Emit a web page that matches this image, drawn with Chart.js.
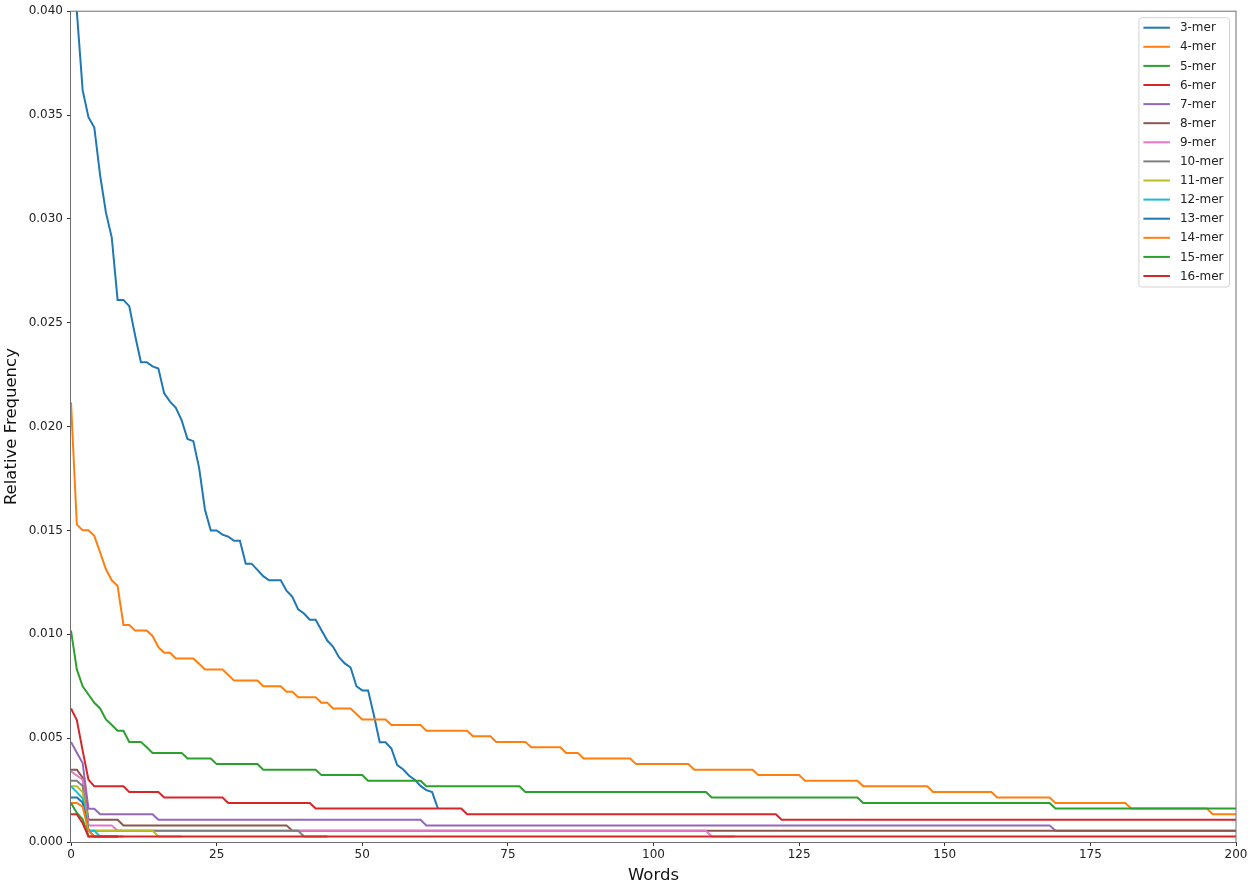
<!DOCTYPE html>
<html>
<head>
<meta charset="utf-8">
<script src="https://cdn.jsdelivr.net/npm/chart.js"></script>
<style>
  html, body { margin: 0; padding: 0; background: #ffffff; }
  canvas { display: block; }
</style>
</head>
<body>
<canvas id="chart" width="1250" height="887"></canvas>
<script>
// ---------------- DATA (relative frequency of the ranked words) ----------------
const seriesNames = ['3-mer','4-mer','5-mer','6-mer','7-mer','8-mer','9-mer','10-mer','11-mer','12-mer','13-mer','14-mer','15-mer','16-mer'];
const xTickValues = [0, 25, 50, 75, 100, 125, 150, 175, 200];
const yTickValues = [0.000, 0.005, 0.010, 0.015, 0.020, 0.025, 0.030, 0.035, 0.040];

const kmer3 = [
  0.0620, 0.0400, 0.0362, 0.0349, 0.0344, 0.0321, 0.0303, 0.0291, 0.0261, 0.0261,
  0.0258, 0.0244, 0.0231, 0.0231, 0.0229, 0.0228, 0.0216, 0.0212, 0.0209, 0.0203,
  0.0194, 0.0193, 0.0180, 0.0160, 0.0150, 0.0150, 0.0148, 0.0147, 0.0145, 0.0145,
  0.0134, 0.0134, 0.0131, 0.0128, 0.0126, 0.0126, 0.0126, 0.0121, 0.0118, 0.0112,
  0.0110, 0.0107, 0.0107, 0.0102, 0.0097, 0.0094, 0.0089, 0.0086, 0.0084, 0.0075,
  0.0073, 0.0073, 0.0061, 0.0048, 0.0048, 0.0045, 0.0037, 0.0035, 0.0032, 0.0030,
  0.0027, 0.0025, 0.0024, 0.0016
];

const kmer4 = [
  0.02117, 0.01528, 0.01501, 0.01501, 0.01474, 0.01394, 0.01313, 0.01260, 0.01233, 0.01045,
  0.01045, 0.01018, 0.01018, 0.01018, 0.00992, 0.00938, 0.00911, 0.00911, 0.00884, 0.00884,
  0.00884, 0.00884, 0.00858, 0.00831, 0.00831, 0.00831, 0.00831, 0.00804, 0.00777, 0.00777,
  0.00777, 0.00777, 0.00777, 0.00750, 0.00750, 0.00750, 0.00750, 0.00724, 0.00724, 0.00697,
  0.00697, 0.00697, 0.00697, 0.00670, 0.00670, 0.00643, 0.00643, 0.00643, 0.00643, 0.00616,
  0.00590, 0.00590, 0.00590, 0.00590, 0.00590, 0.00563, 0.00563, 0.00563, 0.00563, 0.00563,
  0.00563, 0.00536, 0.00536, 0.00536, 0.00536, 0.00536, 0.00536, 0.00536, 0.00536, 0.00509,
  0.00509, 0.00509, 0.00509, 0.00482, 0.00482, 0.00482, 0.00482, 0.00482, 0.00482, 0.00456,
  0.00456, 0.00456, 0.00456, 0.00456, 0.00456, 0.00429, 0.00429, 0.00429, 0.00402, 0.00402,
  0.00402, 0.00402, 0.00402, 0.00402, 0.00402, 0.00402, 0.00402, 0.00375, 0.00375, 0.00375,
  0.00375, 0.00375, 0.00375, 0.00375, 0.00375, 0.00375, 0.00375, 0.00348, 0.00348, 0.00348,
  0.00348, 0.00348, 0.00348, 0.00348, 0.00348, 0.00348, 0.00348, 0.00348, 0.00322, 0.00322,
  0.00322, 0.00322, 0.00322, 0.00322, 0.00322, 0.00322, 0.00295, 0.00295, 0.00295, 0.00295,
  0.00295, 0.00295, 0.00295, 0.00295, 0.00295, 0.00295, 0.00268, 0.00268, 0.00268, 0.00268,
  0.00268, 0.00268, 0.00268, 0.00268, 0.00268, 0.00268, 0.00268, 0.00268, 0.00241, 0.00241,
  0.00241, 0.00241, 0.00241, 0.00241, 0.00241, 0.00241, 0.00241, 0.00241, 0.00241, 0.00214,
  0.00214, 0.00214, 0.00214, 0.00214, 0.00214, 0.00214, 0.00214, 0.00214, 0.00214, 0.00188,
  0.00188, 0.00188, 0.00188, 0.00188, 0.00188, 0.00188, 0.00188, 0.00188, 0.00188, 0.00188,
  0.00188, 0.00188, 0.00161, 0.00161, 0.00161, 0.00161, 0.00161, 0.00161, 0.00161, 0.00161,
  0.00161, 0.00161, 0.00161, 0.00161, 0.00161, 0.00161, 0.00134, 0.00134, 0.00134, 0.00134,
  0.00134
];

const kmer5 = [
  0.01018, 0.00831, 0.00750, 0.00710, 0.00670, 0.00643, 0.00590, 0.00563, 0.00536, 0.00536,
  0.00482, 0.00482, 0.00482, 0.00456, 0.00429, 0.00429, 0.00429, 0.00429, 0.00429, 0.00429,
  0.00402, 0.00402, 0.00402, 0.00402, 0.00402, 0.00375, 0.00375, 0.00375, 0.00375, 0.00375,
  0.00375, 0.00375, 0.00375, 0.00348, 0.00348, 0.00348, 0.00348, 0.00348, 0.00348, 0.00348,
  0.00348, 0.00348, 0.00348, 0.00322, 0.00322, 0.00322, 0.00322, 0.00322, 0.00322, 0.00322,
  0.00322, 0.00295, 0.00295, 0.00295, 0.00295, 0.00295, 0.00295, 0.00295, 0.00295, 0.00295,
  0.00295, 0.00268, 0.00268, 0.00268, 0.00268, 0.00268, 0.00268, 0.00268, 0.00268, 0.00268,
  0.00268, 0.00268, 0.00268, 0.00268, 0.00268, 0.00268, 0.00268, 0.00268, 0.00241, 0.00241,
  0.00241, 0.00241, 0.00241, 0.00241, 0.00241, 0.00241, 0.00241, 0.00241, 0.00241, 0.00241,
  0.00241, 0.00241, 0.00241, 0.00241, 0.00241, 0.00241, 0.00241, 0.00241, 0.00241, 0.00241,
  0.00241, 0.00241, 0.00241, 0.00241, 0.00241, 0.00241, 0.00241, 0.00241, 0.00241, 0.00241,
  0.00214, 0.00214, 0.00214, 0.00214, 0.00214, 0.00214, 0.00214, 0.00214, 0.00214, 0.00214,
  0.00214, 0.00214, 0.00214, 0.00214, 0.00214, 0.00214, 0.00214, 0.00214, 0.00214, 0.00214,
  0.00214, 0.00214, 0.00214, 0.00214, 0.00214, 0.00214, 0.00188, 0.00188, 0.00188, 0.00188,
  0.00188, 0.00188, 0.00188, 0.00188, 0.00188, 0.00188, 0.00188, 0.00188, 0.00188, 0.00188,
  0.00188, 0.00188, 0.00188, 0.00188, 0.00188, 0.00188, 0.00188, 0.00188, 0.00188, 0.00188,
  0.00188, 0.00188, 0.00188, 0.00188, 0.00188, 0.00188, 0.00188, 0.00188, 0.00188, 0.00161,
  0.00161, 0.00161, 0.00161, 0.00161, 0.00161, 0.00161, 0.00161, 0.00161, 0.00161, 0.00161,
  0.00161, 0.00161, 0.00161, 0.00161, 0.00161, 0.00161, 0.00161, 0.00161, 0.00161, 0.00161,
  0.00161, 0.00161, 0.00161, 0.00161, 0.00161, 0.00161, 0.00161, 0.00161, 0.00161, 0.00161,
  0.00161
];

const kmer6 = [
  0.00643, 0.00587, 0.00440, 0.00300, 0.00268, 0.00268, 0.00268, 0.00268, 0.00268, 0.00268,
  0.00241, 0.00241, 0.00241, 0.00241, 0.00241, 0.00241, 0.00214, 0.00214, 0.00214, 0.00214,
  0.00214, 0.00214, 0.00214, 0.00214, 0.00214, 0.00214, 0.00214, 0.00188, 0.00188, 0.00188,
  0.00188, 0.00188, 0.00188, 0.00188, 0.00188, 0.00188, 0.00188, 0.00188, 0.00188, 0.00188,
  0.00188, 0.00188, 0.00161, 0.00161, 0.00161, 0.00161, 0.00161, 0.00161, 0.00161, 0.00161,
  0.00161, 0.00161, 0.00161, 0.00161, 0.00161, 0.00161, 0.00161, 0.00161, 0.00161, 0.00161,
  0.00161, 0.00161, 0.00161, 0.00161, 0.00161, 0.00161, 0.00161, 0.00161, 0.00134, 0.00134,
  0.00134, 0.00134, 0.00134, 0.00134, 0.00134, 0.00134, 0.00134, 0.00134, 0.00134, 0.00134,
  0.00134, 0.00134, 0.00134, 0.00134, 0.00134, 0.00134, 0.00134, 0.00134, 0.00134, 0.00134,
  0.00134, 0.00134, 0.00134, 0.00134, 0.00134, 0.00134, 0.00134, 0.00134, 0.00134, 0.00134,
  0.00134, 0.00134, 0.00134, 0.00134, 0.00134, 0.00134, 0.00134, 0.00134, 0.00134, 0.00134,
  0.00134, 0.00134, 0.00134, 0.00134, 0.00134, 0.00134, 0.00134, 0.00134, 0.00134, 0.00134,
  0.00134, 0.00134, 0.00107, 0.00107, 0.00107, 0.00107, 0.00107, 0.00107, 0.00107, 0.00107,
  0.00107, 0.00107, 0.00107, 0.00107, 0.00107, 0.00107, 0.00107, 0.00107, 0.00107, 0.00107,
  0.00107, 0.00107, 0.00107, 0.00107, 0.00107, 0.00107, 0.00107, 0.00107, 0.00107, 0.00107,
  0.00107, 0.00107, 0.00107, 0.00107, 0.00107, 0.00107, 0.00107, 0.00107, 0.00107, 0.00107,
  0.00107, 0.00107, 0.00107, 0.00107, 0.00107, 0.00107, 0.00107, 0.00107, 0.00107, 0.00107,
  0.00107, 0.00107, 0.00107, 0.00107, 0.00107, 0.00107, 0.00107, 0.00107, 0.00107, 0.00107,
  0.00107, 0.00107, 0.00107, 0.00107, 0.00107, 0.00107, 0.00107, 0.00107, 0.00107, 0.00107,
  0.00107, 0.00107, 0.00107, 0.00107, 0.00107, 0.00107, 0.00107, 0.00107, 0.00107, 0.00107,
  0.00107
];

const kmer7 = [
  0.00482, 0.00430, 0.00380, 0.00160, 0.00160, 0.00134, 0.00134, 0.00134, 0.00134, 0.00134,
  0.00134, 0.00134, 0.00134, 0.00134, 0.00134, 0.00107, 0.00107, 0.00107, 0.00107, 0.00107,
  0.00107, 0.00107, 0.00107, 0.00107, 0.00107, 0.00107, 0.00107, 0.00107, 0.00107, 0.00107,
  0.00107, 0.00107, 0.00107, 0.00107, 0.00107, 0.00107, 0.00107, 0.00107, 0.00107, 0.00107,
  0.00107, 0.00107, 0.00107, 0.00107, 0.00107, 0.00107, 0.00107, 0.00107, 0.00107, 0.00107,
  0.00107, 0.00107, 0.00107, 0.00107, 0.00107, 0.00107, 0.00107, 0.00107, 0.00107, 0.00107,
  0.00107, 0.00080, 0.00080, 0.00080, 0.00080, 0.00080, 0.00080, 0.00080, 0.00080, 0.00080,
  0.00080, 0.00080, 0.00080, 0.00080, 0.00080, 0.00080, 0.00080, 0.00080, 0.00080, 0.00080,
  0.00080, 0.00080, 0.00080, 0.00080, 0.00080, 0.00080, 0.00080, 0.00080, 0.00080, 0.00080,
  0.00080, 0.00080, 0.00080, 0.00080, 0.00080, 0.00080, 0.00080, 0.00080, 0.00080, 0.00080,
  0.00080, 0.00080, 0.00080, 0.00080, 0.00080, 0.00080, 0.00080, 0.00080, 0.00080, 0.00080,
  0.00080, 0.00080, 0.00080, 0.00080, 0.00080, 0.00080, 0.00080, 0.00080, 0.00080, 0.00080,
  0.00080, 0.00080, 0.00080, 0.00080, 0.00080, 0.00080, 0.00080, 0.00080, 0.00080, 0.00080,
  0.00080, 0.00080, 0.00080, 0.00080, 0.00080, 0.00080, 0.00080, 0.00080, 0.00080, 0.00080,
  0.00080, 0.00080, 0.00080, 0.00080, 0.00080, 0.00080, 0.00080, 0.00080, 0.00080, 0.00080,
  0.00080, 0.00080, 0.00080, 0.00080, 0.00080, 0.00080, 0.00080, 0.00080, 0.00080, 0.00080,
  0.00080, 0.00080, 0.00080, 0.00080, 0.00080, 0.00080, 0.00080, 0.00080, 0.00080, 0.00054,
  0.00054, 0.00054, 0.00054, 0.00054, 0.00054, 0.00054, 0.00054, 0.00054, 0.00054, 0.00054,
  0.00054, 0.00054, 0.00054, 0.00054, 0.00054, 0.00054, 0.00054, 0.00054, 0.00054, 0.00054,
  0.00054, 0.00054, 0.00054, 0.00054, 0.00054, 0.00054, 0.00054, 0.00054, 0.00054, 0.00054,
  0.00054
];

const kmer8 = [
  0.00348, 0.00348, 0.00310, 0.00107, 0.00107, 0.00107, 0.00107, 0.00107, 0.00107, 0.00080,
  0.00080, 0.00080, 0.00080, 0.00080, 0.00080, 0.00080, 0.00080, 0.00080, 0.00080, 0.00080,
  0.00080, 0.00080, 0.00080, 0.00080, 0.00080, 0.00080, 0.00080, 0.00080, 0.00080, 0.00080,
  0.00080, 0.00080, 0.00080, 0.00080, 0.00080, 0.00080, 0.00080, 0.00080, 0.00054, 0.00054,
  0.00054, 0.00054, 0.00054, 0.00054, 0.00054, 0.00054, 0.00054, 0.00054, 0.00054, 0.00054,
  0.00054, 0.00054, 0.00054, 0.00054, 0.00054, 0.00054, 0.00054, 0.00054, 0.00054, 0.00054,
  0.00054, 0.00054, 0.00054, 0.00054, 0.00054, 0.00054, 0.00054, 0.00054, 0.00054, 0.00054,
  0.00054, 0.00054, 0.00054, 0.00054, 0.00054, 0.00054, 0.00054, 0.00054, 0.00054, 0.00054,
  0.00054, 0.00054, 0.00054, 0.00054, 0.00054, 0.00054, 0.00054, 0.00054, 0.00054, 0.00054,
  0.00054, 0.00054, 0.00054, 0.00054, 0.00054, 0.00054, 0.00054, 0.00054, 0.00054, 0.00054,
  0.00054, 0.00054, 0.00054, 0.00054, 0.00054, 0.00054, 0.00054, 0.00054, 0.00054, 0.00054,
  0.00054, 0.00054, 0.00054, 0.00054, 0.00054, 0.00054, 0.00054, 0.00054, 0.00054, 0.00054,
  0.00054, 0.00054, 0.00054, 0.00054, 0.00054, 0.00054, 0.00054, 0.00054, 0.00054, 0.00054,
  0.00054, 0.00054, 0.00054, 0.00054, 0.00054, 0.00054, 0.00054, 0.00054, 0.00054, 0.00054,
  0.00054, 0.00054, 0.00054, 0.00054, 0.00054, 0.00054, 0.00054, 0.00054, 0.00054, 0.00054,
  0.00054, 0.00054, 0.00054, 0.00054, 0.00054, 0.00054, 0.00054, 0.00054, 0.00054, 0.00054,
  0.00054, 0.00054, 0.00054, 0.00054, 0.00054, 0.00054, 0.00054, 0.00054, 0.00054, 0.00054,
  0.00054, 0.00054, 0.00054, 0.00054, 0.00054, 0.00054, 0.00054, 0.00054, 0.00054, 0.00054,
  0.00054, 0.00054, 0.00054, 0.00054, 0.00054, 0.00054, 0.00054, 0.00054, 0.00054, 0.00054,
  0.00054, 0.00054, 0.00054, 0.00054, 0.00054, 0.00054, 0.00054, 0.00054, 0.00054, 0.00054,
  0.00054
];

const kmer9 = [
  0.00340, 0.00320, 0.00300, 0.00080, 0.00080, 0.00080, 0.00080, 0.00080, 0.00054, 0.00054,
  0.00054, 0.00054, 0.00054, 0.00054, 0.00054, 0.00054, 0.00054, 0.00054, 0.00054, 0.00054,
  0.00054, 0.00054, 0.00054, 0.00054, 0.00054, 0.00054, 0.00054, 0.00054, 0.00054, 0.00054,
  0.00054, 0.00054, 0.00054, 0.00054, 0.00054, 0.00054, 0.00054, 0.00054, 0.00054, 0.00054,
  0.00054, 0.00054, 0.00054, 0.00054, 0.00054, 0.00054, 0.00054, 0.00054, 0.00054, 0.00054,
  0.00054, 0.00054, 0.00054, 0.00054, 0.00054, 0.00054, 0.00054, 0.00054, 0.00054, 0.00054,
  0.00054, 0.00054, 0.00054, 0.00054, 0.00054, 0.00054, 0.00054, 0.00054, 0.00054, 0.00054,
  0.00054, 0.00054, 0.00054, 0.00054, 0.00054, 0.00054, 0.00054, 0.00054, 0.00054, 0.00054,
  0.00054, 0.00054, 0.00054, 0.00054, 0.00054, 0.00054, 0.00054, 0.00054, 0.00054, 0.00054,
  0.00054, 0.00054, 0.00054, 0.00054, 0.00054, 0.00054, 0.00054, 0.00054, 0.00054, 0.00054,
  0.00054, 0.00054, 0.00054, 0.00054, 0.00054, 0.00054, 0.00054, 0.00054, 0.00054, 0.00054,
  0.00027, 0.00027, 0.00027, 0.00027, 0.00027
];

const kmer10 = [
  0.00295, 0.00295, 0.00270, 0.00054, 0.00054, 0.00054, 0.00054, 0.00054, 0.00054, 0.00054,
  0.00054, 0.00054, 0.00054, 0.00054, 0.00054, 0.00054, 0.00054, 0.00054, 0.00054, 0.00054,
  0.00054, 0.00054, 0.00054, 0.00054, 0.00054, 0.00054, 0.00054, 0.00054, 0.00054, 0.00054,
  0.00054, 0.00054, 0.00054, 0.00054, 0.00054, 0.00054, 0.00054, 0.00054, 0.00054, 0.00054,
  0.00027, 0.00027, 0.00027, 0.00027, 0.00027
];

const kmer11 = [
  0.00268, 0.00268, 0.00240, 0.00054, 0.00054, 0.00054, 0.00054, 0.00054, 0.00054, 0.00054,
  0.00054, 0.00054, 0.00054, 0.00054, 0.00054, 0.00027, 0.00027, 0.00027, 0.00027, 0.00027
];

const kmer12 = [0.00268, 0.00240, 0.00210, 0.00054, 0.00054, 0.00027, 0.00027, 0.00027, 0.00027, 0.00027];
const kmer13 = [0.00214, 0.00214, 0.00190, 0.00054, 0.00027, 0.00027, 0.00027, 0.00027, 0.00027];
const kmer14 = [0.00188, 0.00188, 0.00170, 0.00054, 0.00027, 0.00027, 0.00027, 0.00027, 0.00027];
const kmer15 = [0.00188, 0.00140, 0.00110, 0.00027, 0.00027, 0.00027, 0.00027, 0.00027, 0.00027];

const kmer16 = [
  0.00134, 0.00134, 0.00090, 0.00027, 0.00027, 0.00027, 0.00027, 0.00027, 0.00027, 0.00027,
  0.00027, 0.00027, 0.00027, 0.00027, 0.00027, 0.00027, 0.00027, 0.00027, 0.00027, 0.00027,
  0.00027, 0.00027, 0.00027, 0.00027, 0.00027, 0.00027, 0.00027, 0.00027, 0.00027, 0.00027,
  0.00027, 0.00027, 0.00027, 0.00027, 0.00027, 0.00027, 0.00027, 0.00027, 0.00027, 0.00027,
  0.00027, 0.00027, 0.00027, 0.00027, 0.00027, 0.00027, 0.00027, 0.00027, 0.00027, 0.00027,
  0.00027, 0.00027, 0.00027, 0.00027, 0.00027, 0.00027, 0.00027, 0.00027, 0.00027, 0.00027,
  0.00027, 0.00027, 0.00027, 0.00027, 0.00027, 0.00027, 0.00027, 0.00027, 0.00027, 0.00027,
  0.00027, 0.00027, 0.00027, 0.00027, 0.00027, 0.00027, 0.00027, 0.00027, 0.00027, 0.00027,
  0.00027, 0.00027, 0.00027, 0.00027, 0.00027, 0.00027, 0.00027, 0.00027, 0.00027, 0.00027,
  0.00027, 0.00027, 0.00027, 0.00027, 0.00027, 0.00027, 0.00027, 0.00027, 0.00027, 0.00027,
  0.00027, 0.00027, 0.00027, 0.00027, 0.00027, 0.00027, 0.00027, 0.00027, 0.00027, 0.00027,
  0.00027, 0.00027, 0.00027, 0.00027, 0.00027, 0.00027, 0.00027, 0.00027, 0.00027, 0.00027,
  0.00027, 0.00027, 0.00027, 0.00027, 0.00027, 0.00027, 0.00027, 0.00027, 0.00027, 0.00027,
  0.00027, 0.00027, 0.00027, 0.00027, 0.00027, 0.00027, 0.00027, 0.00027, 0.00027, 0.00027,
  0.00027, 0.00027, 0.00027, 0.00027, 0.00027, 0.00027, 0.00027, 0.00027, 0.00027, 0.00027,
  0.00027, 0.00027, 0.00027, 0.00027, 0.00027, 0.00027, 0.00027, 0.00027, 0.00027, 0.00027,
  0.00027, 0.00027, 0.00027, 0.00027, 0.00027, 0.00027, 0.00027, 0.00027, 0.00027, 0.00027,
  0.00027, 0.00027, 0.00027, 0.00027, 0.00027, 0.00027, 0.00027, 0.00027, 0.00027, 0.00027,
  0.00027, 0.00027, 0.00027, 0.00027, 0.00027, 0.00027, 0.00027, 0.00027, 0.00027, 0.00027,
  0.00027, 0.00027, 0.00027, 0.00027, 0.00027, 0.00027, 0.00027, 0.00027, 0.00027, 0.00027,
  0.00027
];

const seriesValues = [kmer3, kmer4, kmer5, kmer6, kmer7, kmer8, kmer9, kmer10, kmer11, kmer12, kmer13, kmer14, kmer15, kmer16];
const seriesColors = ['#1f77b4', '#ff7f0e', '#2ca02c', '#d62728', '#9467bd', '#8c564b', '#e377c2',
                      '#7f7f7f', '#bcbd22', '#17becf', '#1f77b4', '#ff7f0e', '#2ca02c', '#d62728'];

// ---------------- CHART ----------------
const FONT = '"DejaVu Sans", "Liberation Sans", sans-serif';

// matplotlib-like frame (all four spines)
const framePlugin = {
  id: 'frame',
  afterDatasetsDraw(chart) {
    const { ctx, chartArea: a } = chart;
    ctx.save();
    ctx.strokeStyle = '#6e6e6e';
    ctx.lineWidth = 1;
    ctx.strokeRect(a.left - 0.5, a.top, a.right - a.left + 0.5, a.bottom - a.top + 0.5);
    ctx.restore();
  }
};

// matplotlib-like legend inside the upper-right corner of the axes
const insideLegendPlugin = {
  id: 'insideLegend',
  afterDraw(chart) {
    const { ctx, chartArea: a } = chart;
    const ds = chart.data.datasets;
    ctx.save();
    ctx.font = '12px ' + FONT;
    let maxW = 0;
    ds.forEach(d => { maxW = Math.max(maxW, ctx.measureText(d.label).width); });
    const padL = 4.5, handle = 26.5, gap = 10, padR = 6;
    const rowH = 19.1, padT = 10, padB = 11;
    const w = padL + handle + gap + maxW + padR;
    const h = padT + rowH * (ds.length - 1) + padB;
    const right = a.right - 6.5;
    const left = right - w;
    const top = a.top + 6.5;
    ctx.beginPath();
    if (ctx.roundRect) ctx.roundRect(left, top, w, h, 3); else ctx.rect(left, top, w, h);
    ctx.fillStyle = 'rgba(255,255,255,0.8)';
    ctx.fill();
    ctx.strokeStyle = '#d3d3d3';
    ctx.lineWidth = 1;
    ctx.stroke();
    ctx.textBaseline = 'middle';
    ctx.textAlign = 'left';
    ds.forEach((d, i) => {
      const y = top + padT + i * rowH;
      ctx.beginPath();
      ctx.moveTo(left + padL, y);
      ctx.lineTo(left + padL + handle, y);
      ctx.strokeStyle = d.borderColor;
      ctx.lineWidth = 2;
      ctx.stroke();
      ctx.fillStyle = '#222222';
      ctx.fillText(d.label, left + padL + handle + gap, y + 0.5);
    });
    ctx.restore();
  }
};

const datasets = seriesNames.map((name, i) => ({
  label: name,
  data: seriesValues[i].map((v, rank) => ({ x: rank, y: v })),
  borderColor: seriesColors[i],
  backgroundColor: seriesColors[i],
  borderWidth: 2,
  pointRadius: 0,
  tension: 0,
  fill: false,
  order: seriesNames.length - i   // later series drawn on top, like matplotlib
}));

new Chart(document.getElementById('chart'), {
  type: 'line',
  data: { datasets },
  options: {
    responsive: false,
    animation: false,
    devicePixelRatio: 1,
    layout: { padding: { left: 0, right: 14, top: 10, bottom: 0 } },
    plugins: {
      legend: { display: false },
      tooltip: { enabled: false }
    },
    scales: {
      x: {
        type: 'linear',
        min: 0,
        max: 200,
        afterBuildTicks: s => { s.ticks = xTickValues.map(v => ({ value: v })); },
        ticks: {
          font: { family: FONT, size: 12 },
          color: '#222222',
          padding: 2,
          maxRotation: 0,
          callback: v => String(v)
        },
        grid: { display: true, drawOnChartArea: false, drawTicks: true, tickLength: 4, color: '#333333', lineWidth: 1 },
        border: { display: false },
        title: { display: true, text: 'Words', font: { family: FONT, size: 16.5 }, color: '#111111', padding: { top: 0, bottom: 1 } },
        afterFit: s => { s.height = 45; }
      },
      y: {
        type: 'linear',
        min: 0,
        max: 0.04,
        afterBuildTicks: s => { s.ticks = yTickValues.map(v => ({ value: v })); },
        ticks: {
          font: { family: FONT, size: 12 },
          color: '#222222',
          padding: 4,
          callback: v => Number(v).toFixed(3)
        },
        grid: { display: true, drawOnChartArea: false, drawTicks: true, tickLength: 4, color: '#333333', lineWidth: 1 },
        border: { display: false },
        title: { display: true, text: 'Relative Frequency', font: { family: FONT, size: 16.5 }, color: '#111111', padding: { top: 2, bottom: 0 } },
        afterFit: s => { s.width = 71; }
      }
    }
  },
  plugins: [framePlugin, insideLegendPlugin]
});
</script>
</body>
</html>
